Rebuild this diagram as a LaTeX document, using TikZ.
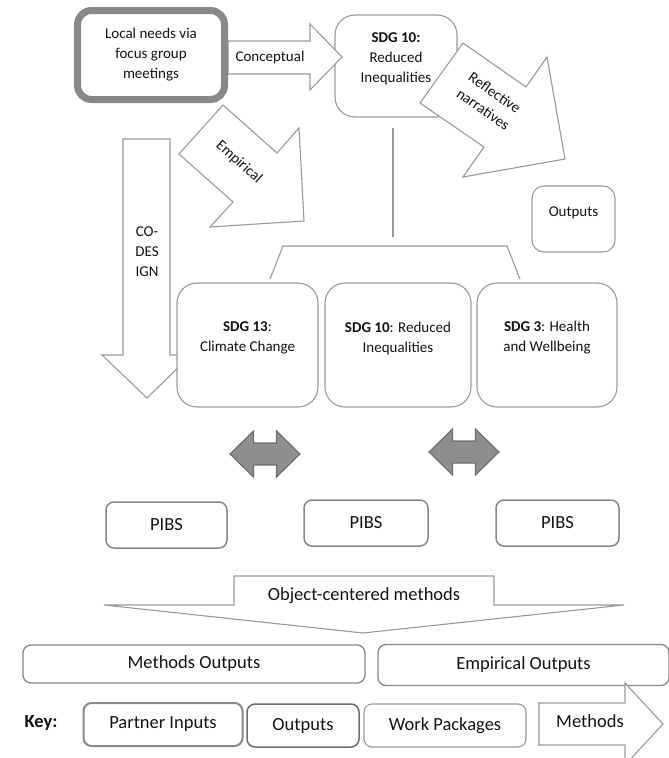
\documentclass[tikz,border=0pt]{standalone}
\usepackage{fontspec}
\setmainfont{Carlito}
\usepackage{tikz}
\usetikzlibrary{calc}

\definecolor{edgegray}{HTML}{9A9A9A}
\definecolor{thickgray}{HTML}{888888}
\definecolor{darkgray}{HTML}{6E6E6E}
\definecolor{fillgray}{HTML}{8E8E8E}
\definecolor{inkgray}{HTML}{141414}

\newcommand{\txtS}{\fontsize{15}{20}\selectfont}
\newcommand{\txtL}{\fontsize{18.5}{22}\selectfont}

\begin{document}
\begin{tikzpicture}[
  x=1pt, y=-1pt,
  every node/.style={text=inkgray},
  txt/.style={inner sep=0pt, align=center, font=\txtS},
  bigtxt/.style={inner sep=0pt, align=center, font=\txtL},
  rbox/.style={draw=edgegray, line width=1.1pt, rounded corners=18pt, fill=white, inner sep=0pt},
  pbox/.style={draw=thickgray, line width=1.5pt, rounded corners=8pt, fill=white, inner sep=0pt, font=\txtL},
  blockarr/.style={draw=edgegray, line width=1.1pt, fill=white},
  dblarr/.style={draw=darkgray, line width=1.1pt, fill=fillgray},
  link/.style={draw=edgegray, line width=1.1pt}
]
\useasboundingbox (0,0) rectangle (669,758);

% Top row
\node[rbox, minimum width=122pt, minimum height=102pt, rounded corners=20pt] (sdgtop) at (396,66) {};
\node[txt] (sdgtoptxt) at (396,59) {\textbf{SDG 10:}\\Reduced\\Inequalities};

\draw[blockarr] (228,41) -- (310,41) -- (310,24) -- (342,57) -- (310,90) -- (310,74) -- (228,74) -- cycle;
\node[txt] (conc) at (270,57) {Conceptual};

\node[rbox, draw=thickgray, line width=7pt, rounded corners=14pt, minimum width=147pt, minimum height=89pt,
  font=\txtS, align=center] (needs) at (151,55) {Local needs via\\focus group\\meetings};

\draw[blockarr] (463,43) -- (526,87) -- (547,57) -- (565,159) -- (463,177) -- (484,147) -- (420,103) -- cycle;
\node[txt, rotate=-35] (refl) at (489,101) {Reflective\\narratives};

\node[rbox, minimum width=83pt, minimum height=66pt, rounded corners=12pt] (outs) at (573.5,219) {};
\node[txt] (outstxt) at (573.5,213) {Outputs};

% Stem and bracket
\coordinate (stemtop) at ($(sdgtop.south)+(-3,10)$);
\coordinate (stembot) at (393,237);
\draw[link] (stemtop) -- (stembot);
\coordinate (legL) at (270,279);
\coordinate (legR) at (520,279);
\draw[link] (legL) -- (283,246) -- (507,246) -- (legR);

\draw[blockarr] (223,105) -- (277,153) -- (299,128) -- (304,221) -- (210,227) -- (233,202) -- (179,154) -- cycle;
\node[txt, rotate=-42] (emp) at (239,162) {Empirical};

\draw[blockarr] (123,139) -- (170,139) -- (170,355) -- (191,355) -- (147,398) -- (102,355) -- (123,355) -- cycle;
\node[txt] (codes) at (147,252) {CO-\\DES\\IGN};

% SDG row
\node[rbox, minimum width=141pt, minimum height=124pt, rounded corners=20pt] (sdg13) at (247.5,345) {};
\node[txt] (sdg13txt) at (247.5,338) {\textbf{SDG 13}:\\Climate Change};
\node[rbox, minimum width=146pt, minimum height=124pt, rounded corners=20pt] (sdg10) at (398,345) {};
\node[txt] (sdg10txt) at (398,338) {\textbf{SDG 10}: Reduced\\Inequalities};
\node[rbox, minimum width=140pt, minimum height=124pt, rounded corners=20pt] (sdg3) at (547,345) {};
\node[txt] (sdg3txt) at (547,338) {\textbf{SDG 3}: Health\\and Wellbeing};

\foreach \cx/\cy in {265/454, 464/452}
  \draw[dblarr] (\cx-35,\cy) -- (\cx-11.5,\cy-23) -- (\cx-11.5,\cy-11) -- (\cx+11.5,\cy-11) -- (\cx+11.5,\cy-23)
    -- (\cx+35,\cy) -- (\cx+11.5,\cy+23) -- (\cx+11.5,\cy+11) -- (\cx-11.5,\cy+11) -- (\cx-11.5,\cy+23) -- cycle;

% PIBS
\node[pbox, minimum width=121pt, minimum height=46pt] (pibsA) at (166.5,525) {PIBS};
\node[pbox, minimum width=124pt, minimum height=46pt] (pibsB) at (366,523) {PIBS};
\node[pbox, minimum width=123pt, minimum height=46pt] (pibsC) at (557.5,523) {PIBS};

\draw[blockarr] (234,576) -- (494,576) -- (494,605) -- (624,605) -- (363,633) -- (104,605) -- (234,605) -- cycle;
\node[bigtxt] (objc) at (364,596) {Object-centered methods};

% Outputs
\node[pbox, line width=1.3pt, minimum width=342pt, minimum height=38pt] (methout) at (194,664) {Methods Outputs};
\node[pbox, line width=1.3pt, minimum width=291pt, minimum height=41pt] (empout) at (523.5,665) {Empirical Outputs};

% Key
\node[bigtxt, font=\txtL\bfseries] (key) at (41,723) {Key:};
\node[pbox, line width=2pt, minimum width=159pt, minimum height=43pt] (kinputs) at (163,724.5) {Partner Inputs};
\node[pbox, draw=darkgray, minimum width=112pt, minimum height=43pt] (koutputs) at (303,725.5) {Outputs};
\node[pbox, draw=edgegray, line width=1.1pt, minimum width=162pt, minimum height=43pt] (kwp) at (445,725.5) {Work Packages};
\draw[blockarr] (539,703) -- (625,703) -- (625,683) -- (663,724) -- (625,765) -- (625,745) -- (539,745) -- cycle;
\node[bigtxt] (kmeth) at (590,721) {Methods};

\end{tikzpicture}
\end{document}
